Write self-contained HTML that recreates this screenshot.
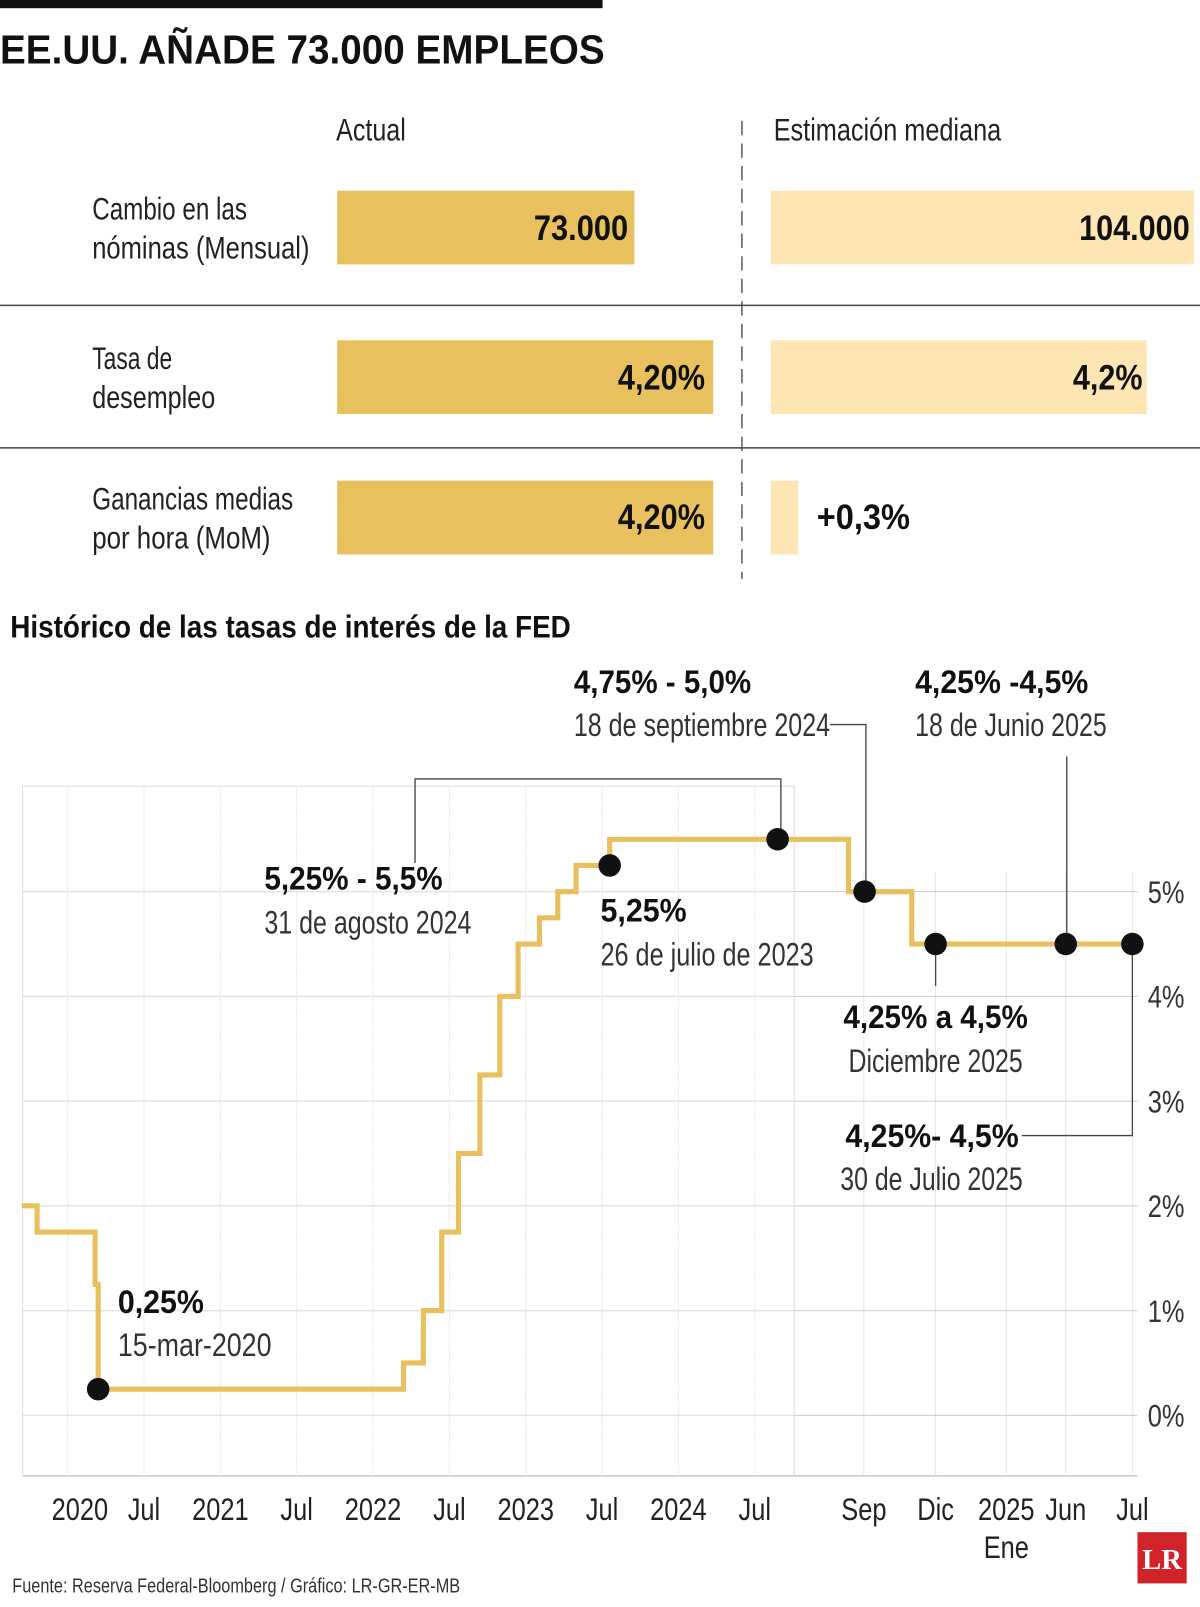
<!DOCTYPE html>
<html><head><meta charset="utf-8"><style>
html,body{margin:0;padding:0;background:#fff;}
svg{display:block;}
text{font-family:"Liberation Sans Narrow","Liberation Sans",sans-serif;}
</style></head><body>
<svg id="c" width="1200" height="1607" viewBox="0 0 1171 1568" preserveAspectRatio="none">
<rect x="0" y="0" width="588" height="8" fill="#111"/>
<text x="0" y="62" font-size="40" font-weight="bold" fill="#111" textLength="590" lengthAdjust="spacingAndGlyphs">EE.UU. AÑADE 73.000 EMPLEOS</text>
<text x="328" y="137" font-size="31" fill="#222" textLength="68" lengthAdjust="spacingAndGlyphs">Actual</text>
<text x="755" y="137" font-size="31" fill="#222" textLength="222" lengthAdjust="spacingAndGlyphs">Estimación mediana</text>
<line x1="724" y1="118" x2="724" y2="565" stroke="#444" stroke-width="1.3" stroke-dasharray="14,8"/>
<line x1="0" y1="298" x2="1171" y2="298" stroke="#444" stroke-width="1.5"/>
<line x1="0" y1="437" x2="1171" y2="437" stroke="#444" stroke-width="1.5"/>
<g font-size="31" fill="#222">
<text x="90" y="214" textLength="151" lengthAdjust="spacingAndGlyphs">Cambio en las</text>
<text x="90" y="252" textLength="212" lengthAdjust="spacingAndGlyphs">nóminas (Mensual)</text>
<text x="90" y="360" textLength="78" lengthAdjust="spacingAndGlyphs">Tasa de</text>
<text x="90" y="398" textLength="120" lengthAdjust="spacingAndGlyphs">desempleo</text>
<text x="90" y="497" textLength="196" lengthAdjust="spacingAndGlyphs">Ganancias medias</text>
<text x="90" y="535" textLength="174" lengthAdjust="spacingAndGlyphs">por hora (MoM)</text>
</g>
<g>
<rect x="329" y="186" width="290" height="72" fill="#e8c05e"/>
<rect x="752" y="186" width="413" height="72" fill="#fde6b3"/>
<rect x="329" y="332" width="367" height="72" fill="#e8c05e"/>
<rect x="752" y="332" width="367" height="72" fill="#fde6b3"/>
<rect x="329" y="469" width="367" height="72" fill="#e8c05e"/>
<rect x="752" y="469" width="27" height="72" fill="#fde6b3"/>
</g>
<g font-size="34" font-weight="bold" fill="#111">
<text x="521" y="234" textLength="92" lengthAdjust="spacingAndGlyphs">73.000</text>
<text x="1053" y="234" textLength="108" lengthAdjust="spacingAndGlyphs">104.000</text>
<text x="603" y="380" textLength="85" lengthAdjust="spacingAndGlyphs">4,20%</text>
<text x="1047" y="380" textLength="68" lengthAdjust="spacingAndGlyphs">4,2%</text>
<text x="603" y="516" textLength="85" lengthAdjust="spacingAndGlyphs">4,20%</text>
<text x="797" y="516" textLength="91" lengthAdjust="spacingAndGlyphs">+0,3%</text>
</g>
<text x="10" y="622" font-size="31" font-weight="bold" fill="#111" textLength="547" lengthAdjust="spacingAndGlyphs">Histórico de las tasas de interés de la FED</text>
<g id="chart"></g>
<g font-size="32" fill="#111">
<text x="560" y="676" font-weight="bold" textLength="173" lengthAdjust="spacingAndGlyphs">4,75% - 5,0%</text><text x="560" y="718" fill="#333" textLength="250" lengthAdjust="spacingAndGlyphs">18 de septiembre 2024</text>
<text x="893" y="676" font-weight="bold" textLength="169" lengthAdjust="spacingAndGlyphs">4,25% -4,5%</text><text x="893" y="718" fill="#333" textLength="187" lengthAdjust="spacingAndGlyphs">18 de Junio 2025</text>
<text x="258" y="868" font-weight="bold" textLength="174" lengthAdjust="spacingAndGlyphs">5,25% - 5,5%</text><text x="258" y="911" fill="#333" textLength="202" lengthAdjust="spacingAndGlyphs">31 de agosto 2024</text>
<text x="586" y="899" font-weight="bold" textLength="84" lengthAdjust="spacingAndGlyphs">5,25%</text><text x="586" y="942" fill="#333" textLength="208" lengthAdjust="spacingAndGlyphs">26 de julio de 2023</text>
<text x="823" y="1003" font-weight="bold" textLength="180" lengthAdjust="spacingAndGlyphs">4,25% a 4,5%</text><text x="828" y="1046" fill="#333" textLength="170" lengthAdjust="spacingAndGlyphs">Diciembre 2025</text>
<text x="825" y="1119" font-weight="bold" textLength="169" lengthAdjust="spacingAndGlyphs">4,25%- 4,5%</text><text x="820" y="1161" fill="#333" textLength="178" lengthAdjust="spacingAndGlyphs">30 de Julio 2025</text>
<text x="115" y="1281" font-weight="bold" textLength="84" lengthAdjust="spacingAndGlyphs">0,25%</text><text x="115" y="1323" fill="#333" textLength="150" lengthAdjust="spacingAndGlyphs">15-mar-2020</text>
</g>
<text x="12" y="1554" font-size="20" fill="#333" textLength="437" lengthAdjust="spacingAndGlyphs">Fuente: Reserva Federal-Bloomberg / Gráfico: LR-GR-ER-MB</text>
<rect x="1110" y="1495" width="48" height="50" fill="#d1232a"/>
<text x="1134" y="1531" font-size="28" font-weight="bold" fill="#fff" text-anchor="middle" style="font-family:'Liberation Serif',serif">LR</text>
</svg>
<script>
// left panel: time in fractional years
const leftTickYears=[2020,2020.5,2021,2021.5,2022,2022.5,2023,2023.5,2024,2024.5];
const leftTickLabels=["2020","Jul","2021","Jul","2022","Jul","2023","Jul","2024","Jul"];
const leftStepYears=[2019.7,2019.8,2020.18,2020.2,2022.2,2022.33,2022.45,2022.56,2022.7,2022.83,2022.95,2023.09,2023.21,2023.33,2023.55];
const leftStepRates=[2.0,1.75,1.25,0.25,0.5,1.0,1.75,2.5,3.25,4.0,4.5,4.75,5.0,5.25,5.5];
const leftDotYears=[2020.2,2023.55,2024.65];
const leftDotRates=[0.25,5.25,5.5];
// right panel: months since Aug 2024
const rightTickMonths=[1,4,5,10,11];
const rightTickLabels=["Sep","Dic","2025","Jun","Jul"];
const rightStepMonths=[0,0.78,3.0];
const rightStepRates=[5.5,5.0,4.5];
const rightDotMonths=[1.03,4,10,11];
const rightDotRates=[5.0,4.5,4.5,4.5];
const yTicks=[0,1,2,3,4,5];

const NS="http://www.w3.org/2000/svg";
const g=document.getElementById('chart');
function el(t,a,p){const e=document.createElementNS(NS,t);for(const k in a)e.setAttribute(k,a[k]);(p||g).appendChild(e);return e;}
function squeeze(t,f){const w=t.getComputedTextLength();t.setAttribute('textLength',w*f);t.setAttribute('lengthAdjust','spacingAndGlyphs');}
const y=v=>1381-v*102.2;
const xL=yr=>66+(yr-2020)*149;
const xLmin=22,xLmax=775,xRmax=1110;
const rm=[0,1,4,5,10,11],rp=[775,843,913,982,1040,1105];
function xR(m){for(let i=0;i<rm.length-1;i++){if(m<=rm[i+1]){return rp[i]+(m-rm[i])/(rm[i+1]-rm[i])*(rp[i+1]-rp[i]);}}return rp[rp.length-1];}
el('line',{x1:xLmin,y1:767,x2:xLmin,y2:1440,stroke:'#ddd'});
el('line',{x1:xLmin,y1:767,x2:xLmax,y2:767,stroke:'#ddd'});
el('line',{x1:xLmin,y1:1440,x2:xRmax,y2:1440,stroke:'#ccc','stroke-width':1.5});
el('line',{x1:xLmax,y1:767,x2:xLmax,y2:1440,stroke:'#ddd'});
leftTickYears.forEach((t,i)=>{
 const ln=el('line',{x1:xL(t),y1:767,x2:xL(t),y2:1440,stroke:'#e6e6e6','stroke-dasharray':'2,1'});
 
 
 const tx=el('text',{x:xL(t)+(i===0?12:0),y:1483,'font-size':31,'text-anchor':'middle',fill:'#222'});tx.textContent=leftTickLabels[i];
 
 
 squeeze(tx,0.8);
});
rightTickMonths.forEach((m,i)=>{
 const ln=el('line',{x1:xR(m),y1:850,x2:xR(m),y2:1440,stroke:'#e6e6e6'});
 
 
 const tx=el('text',{x:xR(m),y:1483,'font-size':31,'text-anchor':'middle',fill:'#222'});tx.textContent=rightTickLabels[i];
 
 
 squeeze(tx,0.8);
});
const ene=el('text',{x:xR(5),y:1520,'font-size':31,'text-anchor':'middle',fill:'#222'});ene.textContent='Ene';
squeeze(ene,0.8);
yTicks.forEach(v=>{
 const a=el('line',{x1:xLmin,y1:y(v),x2:xLmax,y2:y(v),stroke:'#e3e3e3','stroke-width':1.5});
 
 
 const b=el('line',{x1:xLmax,y1:y(v),x2:xRmax,y2:y(v),stroke:'#ccc'});
 
 
 const tx=el('text',{x:1120,y:y(v)+11,'font-size':31,fill:'#333'});tx.textContent=v+'%';
 
 
 squeeze(tx,0.8);
});
let d='M'+xL(leftStepYears[0])+','+y(leftStepRates[0]);
for(let i=1;i<leftStepYears.length;i++){d+='H'+xL(leftStepYears[i])+'V'+y(leftStepRates[i]);}
d+='H'+xLmax;
for(let i=1;i<rightStepMonths.length;i++){d+='H'+xR(rightStepMonths[i])+'V'+y(rightStepRates[i]);}
d+='H'+xR(11);
const line=el('path',{d:d,fill:'none',stroke:'#e8c05e','stroke-width':5});


const L=[[405,842,405,760,762,760,762,818],[810,707,845,707,845,867],[1041,738,1041,922],[913,922,913,962],[1105,922,1105,1108,997,1108]];
L.forEach(p=>{let s='M'+p[0]+','+p[1];for(let i=2;i<p.length;i+=2)s+='L'+p[i]+','+p[i+1];
 const e=el('path',{d:s,fill:'none',stroke:'#444','stroke-width':1.3});
 
 });
leftDotYears.forEach((t,i)=>{const c=el('circle',{cx:xL(t),cy:y(leftDotRates[i]),r:11,fill:'#111'});
 
 });
rightDotMonths.forEach((m,i)=>{const c=el('circle',{cx:xR(m),cy:y(rightDotRates[i]),r:11,fill:'#111'});
 
 });
</script>
</body></html>
